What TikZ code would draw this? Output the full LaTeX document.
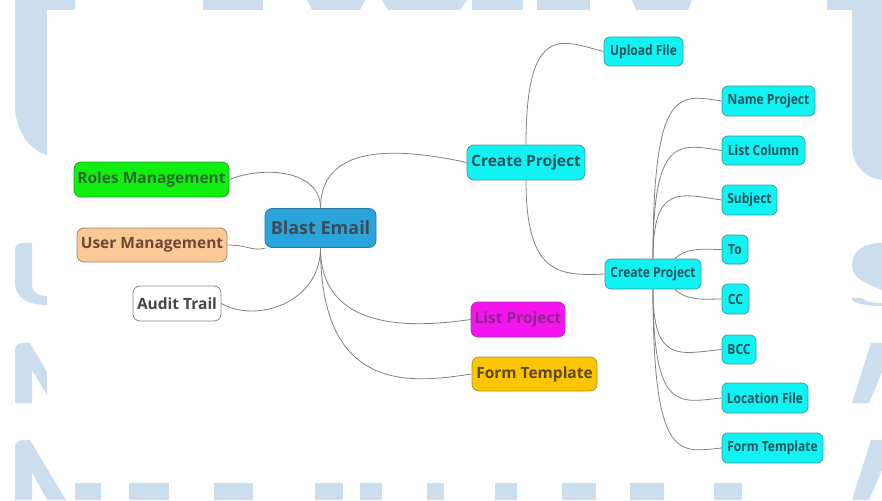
\documentclass[tikz,border=0pt]{standalone}
\usepackage{fontspec}
\setmainfont{Open Sans}
\newfontfamily\condfont{Open Sans}[FakeStretch=0.86]
\usetikzlibrary{calc}
\definecolor{wm}{HTML}{CCDEEE}
\definecolor{linec}{HTML}{808080}
\definecolor{blastf}{HTML}{2BA3DB}\definecolor{blastd}{HTML}{2A7AAA}\definecolor{blastt}{HTML}{3D4B55}
\definecolor{greenf}{HTML}{11EE11}\definecolor{greend}{HTML}{2A9A2A}\definecolor{greent}{HTML}{2A6A2A}
\definecolor{peachf}{HTML}{FDC898}\definecolor{peachd}{HTML}{A08468}\definecolor{peacht}{HTML}{6A4A30}
\definecolor{whited}{HTML}{888888}\definecolor{whitet}{HTML}{444444}
\definecolor{cyanf}{HTML}{11F2F2}\definecolor{cyand}{HTML}{3A9DA5}\definecolor{cyant}{HTML}{1F5560}
\definecolor{magf}{HTML}{F514F0}\definecolor{magd}{HTML}{B030B0}\definecolor{magt}{HTML}{8A2A8A}
\definecolor{yelf}{HTML}{FDC400}\definecolor{yeld}{HTML}{B09030}\definecolor{yelt}{HTML}{5A4A10}
\tikzset{
  mm/.style={draw, rounded corners=7pt, line width=0.8pt, inner sep=0pt, align=center},
  big/.style={mm, font=\fontsize{18}{21}\selectfont\bfseries},
  mid/.style={mm, font=\fontsize{15.5}{18}\selectfont\bfseries},
  small/.style={mm, rounded corners=6pt, font=\condfont\fontsize{14}{16}\selectfont\bfseries},
  cyannode/.style={fill=cyanf, draw=cyand, text=cyant},
  link/.style={draw=linec, line width=0.8pt},
}
\begin{document}
\begin{tikzpicture}[x=1pt,y=-1pt]
\useasboundingbox (0,0) rectangle (882,500);
% watermark
\fill[wm] (15,0) -- (15,105) .. controls (15,132) and (30,150) .. (47,155) -- (47,10) -- (75,10) -- (75,0) -- cycle;
\fill[wm] (203,0) rectangle (263,10);
\fill[wm] (307,0) -- (365,0) -- (360,10) -- (312,10) -- cycle;
\fill[wm] (382,0) -- (467,0) -- (460,10) -- (388,10) -- cycle;
\fill[wm] (472,0) rectangle (523,10);
\fill[wm] (537,0) rectangle (590,10);
\fill[wm] (632,0) -- (692,0) -- (688,10) -- (636,10) -- cycle;
\fill[wm] (827,0) -- (882,0) -- (882,180) .. controls (865,178) and (852,165) .. (852,145) -- (852,10) -- (827,10) -- cycle;
\fill[wm] (15,250) .. controls (15,245) and (18,243) .. (24,243) -- (32,243) -- (32,285) .. controls (32,292) and (38,296) .. (47,296) -- (47,305) .. controls (28,305) and (15,298) .. (15,282) -- cycle;
\fill[wm] (15,350) .. controls (15,345) and (18,343) .. (24,343) -- (30,343) -- (47,372) -- (47,395) -- (32,370) -- (32,403) -- (15,403) -- cycle;
\fill[wm] (15,447) .. controls (15,443) and (18,440) .. (24,440) -- (30,440) -- (66,500) -- (47,500) -- (32,472) -- (32,500) -- (15,500) -- cycle;
\fill[wm] (882,243) .. controls (862,243) and (852,252) .. (852,265) .. controls (852,280) and (868,284) .. (882,290) -- cycle;
\fill[wm] (852,298) -- (862,298) .. controls (866,302) and (874,303) .. (882,303) -- (882,306) .. controls (868,306) and (856,304) .. (852,300) -- cycle;
\fill[wm] (871,343) -- (882,343) -- (882,372) -- (869,403) -- (852,403) -- cycle;
\fill[wm] (871,440) -- (882,440) -- (882,470) -- (869,500) -- (852,500) -- cycle;
\foreach \a/\b in {75/101,129/169,214/253,315/343,360/382,427/444,495/517,562/596,630/664,714/742}
  \fill[wm] (\a,483) rectangle (\b,500);
% nodes
\node[big, fill=blastf, draw=blastd, text=blastt, minimum width=111pt, minimum height=39pt] (blast) at (320.5,228) {Blast Email};
\node[mid, fill=greenf, draw=greend, text=greent, minimum width=155pt, minimum height=35pt] (roles) at (151.5,179.5) {Roles Management};
\node[mid, fill=peachf, draw=peachd, text=peacht, minimum width=150pt, minimum height=34pt] (user) at (152,245) {User Management};
\node[mid, fill=white, draw=whited, text=whitet, minimum width=88pt, minimum height=35pt] (audit) at (177,303.5) {Audit Trail};
\node[mid, cyannode, minimum width=118pt, minimum height=35pt] (cp) at (526,162.5) {Create Project};
\node[mid, fill=magf, draw=magd, text=magt, minimum width=94pt, minimum height=35pt] (list) at (518,319.5) {List Project};
\node[mid, fill=yelf, draw=yeld, text=yelt, minimum width=125pt, minimum height=34pt] (formy) at (534.5,374) {Form Template};
\node[small, cyannode, minimum width=79pt, minimum height=29pt] (upload) at (643.5,51.5) {Upload File};
\node[small, cyannode, minimum width=96pt, minimum height=30pt] (cp2) at (653,274) {Create Project};
\node[small, cyannode, minimum width=93pt, minimum height=30pt] (name) at (768.5,101) {Name Project};
\node[small, cyannode, minimum width=83pt, minimum height=29pt] (col) at (763.5,150.5) {List Column};
\node[small, cyannode, minimum width=55pt, minimum height=30pt] (subj) at (749.5,200) {Subject};
\node[small, cyannode, minimum width=26pt, minimum height=29pt] (to) at (735,249.5) {To};
\node[small, cyannode, minimum width=27pt, minimum height=30pt] (cc) at (735.5,299) {CC};
\node[small, cyannode, minimum width=34pt, minimum height=29pt] (bcc) at (739,349.5) {BCC};
\node[small, cyannode, minimum width=86pt, minimum height=30pt] (loc) at (765,398) {Location File};
\node[small, cyannode, minimum width=101pt, minimum height=30pt] (formc) at (772.5,448) {Form Template};
% connectors
\path[link] (roles.east) .. controls +(35,-14) and +(0,-38) .. (blast.north);
\path[link] (blast.north) .. controls +(0,-70) and +(-55,-12) .. (cp.west);
\path[link] (user.east) .. controls +(22,0) and +(-14,4) .. (blast.200);
\path[link] (audit.east) .. controls +(35,20) and +(0,55) .. (blast.south);
\path[link] (blast.south) .. controls +(0,85) and +(-55,8) .. (list.west);
\path[link] (blast.south) .. controls +(0,150) and +(-55,8) .. (formy.west);
\path[link] (cp.north) .. controls +(0,-125) and +(-40,-10) .. (upload.west);
\path[link] (cp.south) .. controls +(0,95) and +(-45,2) .. (cp2.west);
\path[link] (cp2.north) .. controls +(0,-175) and +(-42,-6) .. (name.west);
\path[link] (cp2.north) .. controls +(0,-125) and +(-42,-6) .. (col.west);
\path[link] (cp2.north) .. controls +(0,-75) and +(-42,-6) .. (subj.west);
\path[link] (cp2.35) .. controls +(12,-12) and +(-15,0) .. (to.west);
\path[link] (cp2.-35) .. controls +(12,12) and +(-15,0) .. (cc.west);
\path[link] (cp2.south) .. controls +(0,75) and +(-42,4) .. (bcc.west);
\path[link] (cp2.south) .. controls +(0,125) and +(-42,4) .. (loc.west);
\path[link] (cp2.south) .. controls +(0,175) and +(-42,4) .. (formc.west);
\end{tikzpicture}
\end{document}
